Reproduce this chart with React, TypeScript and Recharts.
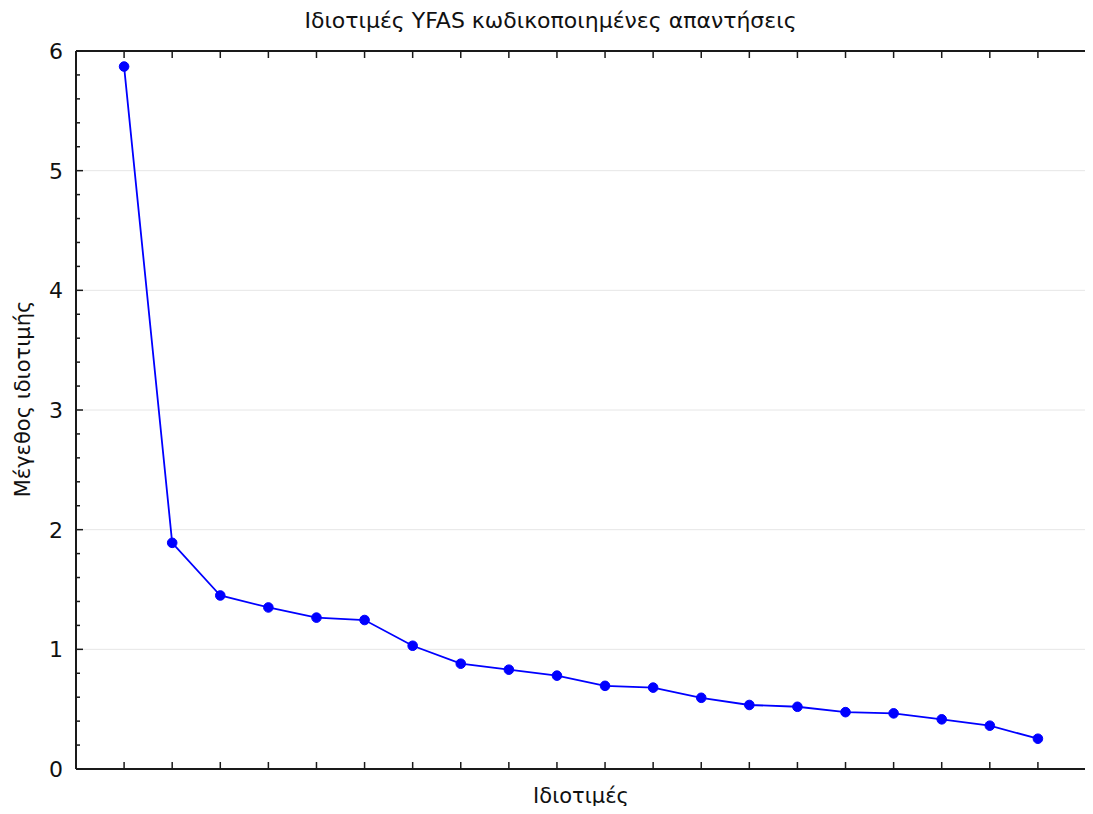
import { LineChart, Line, XAxis, YAxis, CartesianGrid } from "recharts";

const components = [1, 2, 3, 4, 5, 6, 7, 8, 9, 10, 11, 12, 13, 14, 15, 16, 17, 18, 19, 20];
const eigenvalues = [
  5.87, 1.89, 1.45, 1.35, 1.265, 1.245, 1.03, 0.88, 0.83, 0.78,
  0.695, 0.68, 0.595, 0.535, 0.52, 0.475, 0.465, 0.415, 0.362, 0.253,
];
const xDomain = [0, 21];
const yDomain = [0, 6];
const yMajorTicks = [0, 1, 2, 3, 4, 5, 6];
const yAllTicks = [
  0, 0.2, 0.4, 0.6, 0.8, 1, 1.2, 1.4, 1.6, 1.8, 2, 2.2, 2.4, 2.6, 2.8, 3,
  3.2, 3.4, 3.6, 3.8, 4, 4.2, 4.4, 4.6, 4.8, 5, 5.2, 5.4, 5.6, 5.8, 6,
];

const title = "Ιδιοτιμές YFAS κωδικοποιημένες απαντήσεις";
const xLabel = "Ιδιοτιμές";
const yLabel = "Μέγεθος ιδιοτιμής";

const FONT = "'DejaVu Sans', Verdana, sans-serif";
const AXIS = "#1a1a1a";

const data = components.map((c, i) => ({ component: c, value: eigenvalues[i] }));

function isMajor(v: number) {
  return yMajorTicks.includes(v);
}

// ticks point into the plot, like the original frame
function LeftTick({ x, y, payload }: any) {
  const v = payload.value as number;
  const major = isMajor(v);
  return (
    <g>
      <line x1={x} x2={x + (major ? 7 : 4)} y1={y} y2={y} stroke={AXIS} strokeWidth={1.5} />
      {major && (
        <text x={x - 13} y={y} dy="0.36em" textAnchor="end" fontSize={22} fill="#111" fontFamily={FONT}>
          {v}
        </text>
      )}
    </g>
  );
}

function RightTick({ x, y, payload }: any) {
  const major = isMajor(payload.value);
  return <line x1={x} x2={x - (major ? 7 : 4)} y1={y} y2={y} stroke={AXIS} strokeWidth={1.5} />;
}

function TopTick({ x, y }: any) {
  return <line x1={x} x2={x} y1={y} y2={y + 7} stroke={AXIS} strokeWidth={1.5} />;
}

function BottomTick({ x, y }: any) {
  return <line x1={x} x2={x} y1={y} y2={y - 7} stroke={AXIS} strokeWidth={1.5} />;
}

const frameLine = { stroke: AXIS, strokeWidth: 2 };

export default function App() {
  return (
    <div style={{ position: "relative", width: 1085, height: 798, fontFamily: FONT, color: "#111" }}>
      <div
        style={{
          position: "absolute",
          left: 0,
          width: 1085,
          top: 0,
          textAlign: "center",
          fontSize: 22,
          whiteSpace: "nowrap",
        }}
      >
        {title}
      </div>
      <div
        style={{
          position: "absolute",
          left: 68,
          width: 1010,
          top: 776,
          textAlign: "center",
          fontSize: 21,
        }}
      >
        {xLabel}
      </div>
      <div style={{ position: "absolute", left: 15, top: 391, width: 0, height: 0 }}>
        <div
          style={{
            position: "absolute",
            transform: "translate(-50%, -50%) rotate(-90deg)",
            whiteSpace: "nowrap",
            fontSize: 21,
          }}
        >
          {yLabel}
        </div>
      </div>
      <LineChart
        width={1085}
        height={798}
        data={data}
        margin={{ top: 41, right: 3, bottom: 27, left: 18 }}
      >
        <CartesianGrid
          vertical={false}
          horizontalValues={yMajorTicks}
          stroke="#e6e6e6"
          yAxisId="left"
          xAxisId="bottom"
        />
        <XAxis
          xAxisId="bottom"
          dataKey="component"
          type="number"
          domain={xDomain}
          ticks={components}
          interval={0}
          tickSize={0}
          tickMargin={0}
          tickLine={false}
          tick={<BottomTick />}
          height={10}
          axisLine={frameLine}
        />
        <XAxis
          xAxisId="top"
          orientation="top"
          dataKey="component"
          type="number"
          domain={xDomain}
          ticks={components}
          interval={0}
          tickSize={0}
          tickMargin={0}
          tickLine={false}
          tick={<TopTick />}
          height={2}
          axisLine={frameLine}
        />
        <YAxis
          yAxisId="left"
          type="number"
          domain={yDomain}
          ticks={yAllTicks}
          interval={0}
          tickSize={0}
          tickMargin={0}
          tickLine={false}
          tick={<LeftTick />}
          width={50}
          axisLine={frameLine}
        />
        <YAxis
          yAxisId="right"
          orientation="right"
          type="number"
          domain={yDomain}
          ticks={yAllTicks}
          interval={0}
          tickSize={0}
          tickMargin={0}
          tickLine={false}
          tick={<RightTick />}
          width={4}
          axisLine={frameLine}
        />
        <Line
          xAxisId="bottom"
          yAxisId="left"
          dataKey="value"
          stroke="#0000ff"
          strokeWidth={1.8}
          dot={{ r: 4.8, fill: "#0000ff", stroke: "#0000ff", strokeWidth: 1 }}
          isAnimationActive={false}
        />
      </LineChart>
    </div>
  );
}
